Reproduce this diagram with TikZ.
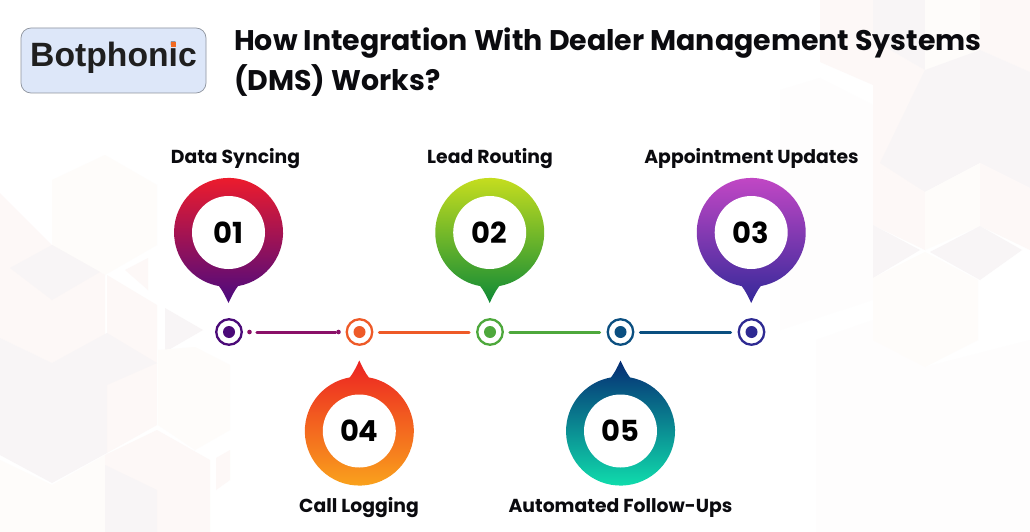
\documentclass[tikz,border=0pt]{standalone}
\usepackage{fontspec}
\setmainfont{Poppins}[BoldFont={Poppins Bold}]
\newfontfamily\logofont{Liberation Sans}[BoldFont={Liberation Sans Bold}]
\newfontfamily\numfont{Poppins}[UprightFont={Poppins Bold}]
\definecolor{ink}{HTML}{0B0B0F}
\definecolor{bgP}{HTML}{FDF8F7}
\definecolor{bgG}{HTML}{F8F5F6}
\definecolor{bgC}{HTML}{FEFCFA}
\definecolor{bgW}{HTML}{FEFDFD}
\definecolor{logofill}{HTML}{DDE7F9}
\definecolor{logoline}{HTML}{8E949E}
\definecolor{logodot}{HTML}{F26A21}
\tikzset{
  heading/.style={font=\bfseries\fontsize{28.4}{40}\selectfont,text=ink,anchor=base west,inner sep=0pt},
  steplabel/.style={font=\bfseries\fontsize{18.8}{22}\selectfont,text=ink,inner sep=0pt,anchor=base},
  hole/.style={circle,fill=white,minimum size=73pt,inner sep=0pt,font=\numfont\fontsize{29}{30}\selectfont,text=black},
  hub/.style={circle,draw=#1,line width=2.3pt,fill=white,minimum size=25.5pt,inner sep=0pt},
  link/.style={line width=3pt,line cap=round,shorten <=6pt,shorten >=7pt}
}
\newcommand{\pindown}[4]{%
  \begin{scope}[shift={(#1,#2)}]
  \shade[top color=#3,bottom color=#4]
   (-9.5,53.6) .. controls (-6,58) and (-3,64) .. (0,70.5)
   .. controls (3,64) and (6,58) .. (9.5,53.6)
   arc[start angle=-80,end angle=260,radius=54.5pt] -- cycle;
  \end{scope}}
\newcommand{\pinup}[4]{%
  \begin{scope}[shift={(#1,#2)}]
  \shade[top color=#3,bottom color=#4]
   (-9.5,-53.6) .. controls (-6,-58) and (-3,-64) .. (0,-70.5)
   .. controls (3,-64) and (6,-58) .. (9.5,-53.6)
   arc[start angle=80,end angle=-260,radius=54.5pt] -- cycle;
  \end{scope}}
\definecolor{cA}{HTML}{F21C2A}\definecolor{dA}{HTML}{4A0A80}
\definecolor{cB}{HTML}{CBE01E}\definecolor{dB}{HTML}{0F8A36}
\definecolor{cC}{HTML}{C648C6}\definecolor{dC}{HTML}{35299A}
\definecolor{cD}{HTML}{EC2222}\definecolor{dD}{HTML}{FAA61C}
\definecolor{cE}{HTML}{052C74}\definecolor{dE}{HTML}{10E2AE}
\definecolor{hA}{HTML}{4B0A78}\definecolor{hB}{HTML}{EE5A28}
\definecolor{hC}{HTML}{4EA83C}\definecolor{hD}{HTML}{0B4F80}
\definecolor{hE}{HTML}{2E2A92}\definecolor{lA}{HTML}{8A1068}
\begin{document}
\begin{tikzpicture}[x=1pt,y=-1pt]
\useasboundingbox (0,0) rectangle (1030,532);
\fill[white] (0,0) rectangle (1030,532);
% background, left
\fill[bgC] (52,180) -- (105,155) -- (157,185) -- (157,245) -- (105,275) -- (52,245) -- cycle;
\fill[bgP] (0,193) -- (52,245) -- (105,275) -- (105,335) -- (52,363) -- (0,338) -- cycle;
\fill[bgG] (10,268) -- (52,245) -- (100,272) -- (52,300) -- cycle;
\fill[bgP] (107,275) -- (157,305) -- (157,425) -- (107,453) -- cycle;
\fill[bgG] (0,338) -- (52,363) -- (107,333) -- (157,363) -- (107,385) -- (107,453) -- (52,483) -- (0,455) -- cycle;
\fill[bgG] (165,308) -- (203,330) -- (165,352) -- cycle;
\fill[bgP] (125,270) -- (148,258) -- (148,290) -- cycle;
\fill[bgC] (158,350) -- (195,347) -- (230,365) -- (230,430) -- (195,450) -- (158,425) -- cycle;
\fill[bgC] (0,460) -- (52,485) -- (105,455) -- (105,532) -- (0,532) -- cycle;
\fill[bgP] (105,455) -- (157,430) -- (210,460) -- (210,532) -- (105,532) -- cycle;
\fill[bgG] (105,465) -- (157,490) -- (157,532) -- (105,532) -- cycle;
\fill[bgP] (216,458) -- (230,450) -- (230,480) -- (216,490) -- cycle;
% background, right
\fill[bgW] (780,90) -- (820,78) -- (873,105) -- (873,300) -- (780,330) -- cycle;
\fill[bgW] (816,340) -- (873,320) -- (925,367) -- (1030,340) -- (1030,532) -- (816,532) -- cycle;
\fill[bgP] (820,0) -- (873,0) -- (873,40) -- (925,70) -- (925,192) -- (873,165) -- (873,85) -- (820,62) -- cycle;
\fill[bgG] (873,0) -- (925,0) -- (925,70) -- (873,40) -- cycle;
\fill[bgC] (925,0) -- (980,0) -- (980,50) -- (925,70) -- cycle;
\fill[bgP] (980,0) -- (1030,0) -- (1030,72) -- (980,50) -- cycle;
\fill[bgG] (925,70) -- (980,50) -- (1030,72) -- (1030,188) -- (980,163) -- (925,192) -- (880,163) -- cycle;
\fill[bgP] (873,165) -- (925,192) -- (925,250) -- (873,225) -- cycle;
\fill[bgC] (925,192) -- (980,163) -- (980,226) -- (925,250) -- cycle;
\fill[bgP] (980,163) -- (1030,188) -- (1030,250) -- (980,226) -- cycle;
\fill[bgG] (873,225) -- (920,250) -- (873,278) -- cycle;
\fill[bgG] (930,252) -- (980,226) -- (1022,250) -- (980,280) -- cycle;
\fill[bgC] (873,278) -- (925,252) -- (978,280) -- (978,340) -- (925,367) -- (873,340) -- cycle;
% logo
\node[draw=logoline,fill=logofill,rounded corners=10pt,line width=0.7pt,minimum width=185pt,minimum height=65pt,inner sep=0pt] (logo) at (113.5,60.5) {};
\node[font=\logofont\bfseries\fontsize{33.7}{36}\selectfont,text=black!88,inner sep=0pt,anchor=base] (logotext) at (113.5,67) {Botphonic};
\fill[logodot] (170.8,42.2) rectangle (176.2,47.2);
% title
\node[heading] (t1) at (234,51) {How Integration With Dealer Management Systems};
\node[heading] (t2) at (234,91) {(DMS) Works?};
% pins
\pindown{228.5}{232.5}{cA}{dA}
\pindown{489.7}{232.5}{cB}{dB}
\pindown{751.2}{232.5}{cC}{dC}
\pinup{359.3}{431}{cD}{dD}
\pinup{620.5}{431}{cE}{dE}
\node[hole] (p1) at (228.5,232.5) {01};
\node[hole] (p2) at (489.7,232.5) {02};
\node[hole] (p3) at (751.2,232.5) {03};
\node[hole] (p4) at (359.3,431) {04};
\node[hole] (p5) at (620.5,431) {05};
% labels
\node[steplabel] (l1) at (235.5,163) {Data Syncing};
\node[steplabel] (l2) at (490,163) {Lead Routing};
\node[steplabel] (l3) at (751.5,163) {Appointment Updates};
\node[steplabel] (l4) at (359,512) {Call Logging};
\node[steplabel] (l5) at (620.5,512) {Automated Follow-Ups};
% hubs
\node[hub=hA] (h1) at (229,332) {};
\node[hub=hB] (h2) at (359.5,332) {};
\node[hub=hC] (h3) at (490,332) {};
\node[hub=hD] (h4) at (620.5,332) {};
\node[hub=hE] (h5) at (751.5,332) {};
\fill[hA] (h1) circle (6pt);
\fill[hB] (h2) circle (6pt);
\fill[hC] (h3) circle (6pt);
\fill[hD] (h4) circle (6pt);
\fill[hE] (h5) circle (6pt);
% connectors
\draw[link,draw=lA,shorten <=14pt,shorten >=10pt] (h1) -- (h2);
\fill[lA] (249.5,332) circle (2.3pt);
\fill[lA] (338.5,332) circle (2.3pt);
\draw[link,draw=hB] (h2) -- (h3);
\draw[link,draw=hC] (h3) -- (h4);
\draw[link,draw=hD] (h4) -- (h5);
\end{tikzpicture}
\end{document}
